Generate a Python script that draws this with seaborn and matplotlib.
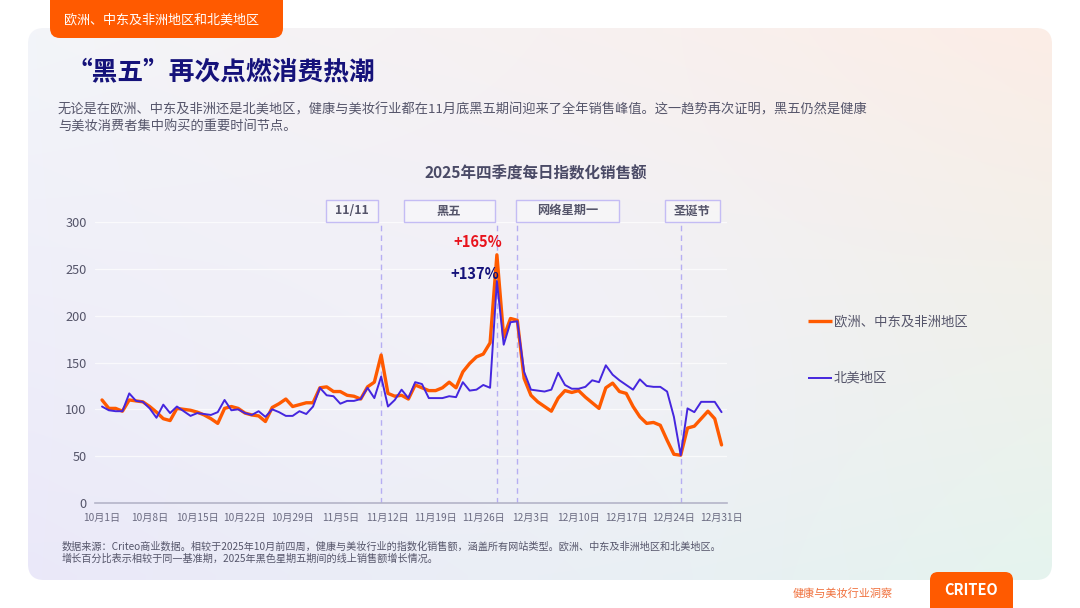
import numpy as np
import pandas as pd
import matplotlib.pyplot as plt
import seaborn as sns
import matplotlib.transforms as mtransforms
from matplotlib.patches import FancyBboxPatch, Rectangle

# ---- data ----
dates = pd.date_range("2025-10-01", "2025-12-31", freq="D")

emea = [110, 101, 101, 98, 110, 109, 108, 103, 97, 90,
        88, 101, 100, 99, 97, 94, 90, 85, 101, 103,
        101, 96, 94, 93, 87, 102, 106, 111, 103, 105,
        107, 107, 123, 124, 119, 119, 115, 114, 111, 124,
        129, 158, 117, 114, 115, 111, 126, 123, 120, 120,
        123, 129, 123, 140, 149, 156, 159, 171, 265, 177,
        197, 195, 133, 115, 108, 103, 98, 112, 120, 118,
        120, 113, 107, 101, 123, 128, 119, 117, 103, 92,
        85, 86, 83, 67, 52, 51, 80, 82, 90, 98,
        90, 62]

north_america = [103, 99, 98, 98, 117, 109, 108, 101, 91, 105,
                 96, 103, 98, 93, 96, 95, 94, 97, 110, 99,
                 100, 96, 94, 98, 92, 100, 97, 93, 93, 98,
                 95, 103, 123, 115, 114, 106, 109, 109, 111, 123,
                 112, 135, 103, 110, 121, 112, 129, 127, 112, 112,
                 112, 114, 113, 129, 120, 121, 126, 123, 237, 169,
                 193, 194, 140, 121, 120, 119, 121, 139, 126, 122,
                 122, 124, 131, 129, 147, 137, 131, 126, 121, 132,
                 125, 124, 124, 119, 92, 51, 101, 97, 108, 108,
                 108, 97]

series_names = ["欧洲、中东及非洲地区", "北美地区"]
tick_labels = ["10月1日", "10月8日", "10月15日", "10月22日", "10月29日", "11月5日",
               "11月12日", "11月19日", "11月26日", "12月3日", "12月10日", "12月17日",
               "12月24日", "12月31日"]
event_names = ["11/11", "黑五", "网络星期一", "圣诞节"]
event_dates = ["2025-11-11", "2025-11-28", "2025-12-01", "2025-12-25"]
peak_labels = ["+165%", "+137%"]

day = (dates - dates[0]).days
df = pd.DataFrame({"day": np.concatenate([day, day]),
                   "value": emea + north_america,
                   "region": [series_names[0]] * len(day) + [series_names[1]] * len(day)})

ORANGE = "#FF5A00"
BLUE = "#4526DE"
NAVY = "#15127A"
GREY = "#55556A"

sns.set_theme(style="white")
plt.rcParams["font.family"] = ["Noto Sans CJK SC", "DejaVu Sans"]

fig = plt.figure(figsize=(10.8, 6.08), dpi=100)
fig.patch.set_facecolor("white")

# background layer in pixel coordinates
bg = fig.add_axes([0, 0, 1, 1])
bg.set_xlim(0, 1080)
bg.set_ylim(608, 0)
bg.axis("off")

# soft gradient panel
corners = {"tl": "#F3F5F9", "tr": "#FCEDE6", "bl": "#EAE8F9", "br": "#E5F4EE"}
c = {k: np.array(plt.matplotlib.colors.to_rgb(v)) for k, v in corners.items()}
gy, gx = np.mgrid[0:1:60j, 0:1:100j]
grad = ((1 - gx)[..., None] * (1 - gy)[..., None] * c["tl"]
        + gx[..., None] * (1 - gy)[..., None] * c["tr"]
        + (1 - gx)[..., None] * gy[..., None] * c["bl"]
        + gx[..., None] * gy[..., None] * c["br"])
mid = np.array(plt.matplotlib.colors.to_rgb("#F3F1FB"))
w = np.exp(-(((gx - 0.45) / 0.35) ** 2 + ((gy - 0.55) / 0.45) ** 2))[..., None]
grad = grad * (1 - 0.6 * w) + mid * 0.6 * w
panel = FancyBboxPatch((28, 28), 1024, 552, boxstyle="round,pad=0,rounding_size=16",
                       facecolor="none", edgecolor="none")
bg.add_patch(panel)
im = bg.imshow(grad, extent=(28, 1052, 580, 28), interpolation="bilinear", zorder=0)
im.set_clip_path(panel)

# top-left tab
bg.add_patch(FancyBboxPatch((50, -20), 233, 58, boxstyle="round,pad=0,rounding_size=10",
                            facecolor=ORANGE, edgecolor="none", zorder=2))
bg.text(64, 20, "欧洲、中东及非洲地区和北美地区", color="white", fontsize=9.4,
        va="center", ha="left", zorder=3)

# headings
bg.text(66, 73, "“黑五”再次点燃消费热潮", color=NAVY, fontsize=18.5,
        fontweight="heavy", va="center", ha="left")
bg.text(58, 110, "无论是在欧洲、中东及非洲还是北美地区，健康与美妆行业都在11月底黑五期间迎来了全年销售峰值。这一趋势再次证明，黑五仍然是健康",
        color=GREY, fontsize=9.5, va="center", ha="left")
bg.text(58, 127, "与美妆消费者集中购买的重要时间节点。", color=GREY, fontsize=9.5,
        va="center", ha="left")
bg.text(536, 173, "2025年四季度每日指数化销售额", color="#4A4A66", fontsize=11.2,
        fontweight="bold", va="center", ha="center")

# footer notes
bg.text(62, 547, "数据来源：Criteo商业数据。相较于2025年10月前四周，健康与美妆行业的指数化销售额，涵盖所有网站类型。欧洲、中东及非洲地区和北美地区。",
        color=GREY, fontsize=7.3, va="center", ha="left")
bg.text(62, 559, "增长百分比表示相较于同一基准期，2025年黑色星期五期间的线上销售额增长情况。",
        color=GREY, fontsize=7.3, va="center", ha="left")
bg.text(793, 594, "健康与美妆行业洞察", color="#F0703C", fontsize=8, va="center", ha="left")
bg.add_patch(FancyBboxPatch((930, 572), 83, 60, boxstyle="round,pad=0,rounding_size=8",
                            facecolor=ORANGE, edgecolor="none", zorder=2))
bg.text(971, 590, "CRITEO", color="white", fontsize=10.5, fontweight="heavy",
        va="center", ha="center", zorder=3)

# legend drawn by hand on the right
for i, (name, col, lw) in enumerate(zip(series_names, [ORANGE, BLUE], [2.4, 1.4])):
    y = 321 + i * 57
    bg.plot([808, 832], [y, y], color=col, lw=lw, solid_capstyle="butt")
    bg.text(834, y, name, color=GREY, fontsize=9.6, va="center", ha="left")

# ---- chart ----
ax = fig.add_axes([95 / 1080, 105 / 608, 632 / 1080, 281 / 608])
ax.set_facecolor("none")
sns.lineplot(data=df[df.region == series_names[1]], x="day", y="value", color=BLUE,
             lw=1.4, ax=ax, legend=False, zorder=4)
sns.lineplot(data=df[df.region == series_names[0]], x="day", y="value", color=ORANGE,
             lw=2.4, ax=ax, legend=False, zorder=3)
for ln in ax.lines:
    ln.set_solid_joinstyle("round")

ax.set_xlim(-1.03, 91.8)
ax.set_ylim(0, 300)
ax.set_yticks(range(0, 301, 50))
ax.set_xticks(range(0, 92, 7))
ax.set_xticklabels(tick_labels)
ax.tick_params(axis="x", labelsize=7.3, colors="#6A6A80", length=0, pad=7)
ax.tick_params(axis="y", labelsize=9.2, colors=GREY, length=0, pad=6)
ax.set_xlabel("")
ax.set_ylabel("")
ax.yaxis.grid(True, color="white", lw=0.9, alpha=0.7)
ax.set_axisbelow(True)
for s in ["top", "right", "left"]:
    ax.spines[s].set_visible(False)
ax.spines["bottom"].set_color("#B4B4C8")
ax.spines["bottom"].set_linewidth(1.2)

# event markers with boxes
trans = mtransforms.blended_transform_factory(ax.transData, ax.transAxes)
box_span = [(-8.1, -0.5), (-13.7, -0.3), (-0.2, 14.9), (-2.3, 5.7)]
for name, d, (a, b) in zip(event_names, event_dates, box_span):
    xd = (pd.Timestamp(d) - dates[0]).days
    ax.axvline(xd, color="#B6AEF2", lw=1, ls=(0, (4, 3)), zorder=1)
    ax.add_patch(Rectangle((xd + a, 1.0), b - a, 0.08, transform=trans,
                           facecolor=(1, 1, 1, 0.35), edgecolor="#C4BCF4", lw=1,
                           clip_on=False))
    ax.text(xd + (a + b) / 2, 1.04, name, transform=trans, color=GREY, fontsize=8.8,
            fontweight="bold", ha="center", va="center")

bf = (pd.Timestamp(event_dates[1]) - dates[0]).days
ax.annotate(peak_labels[0], (bf, emea[bf]), xytext=(-14, 9), textcoords="offset points",
            color="#E8131C", fontsize=10.5, fontweight="bold", ha="center", va="center")
ax.annotate(peak_labels[1], (bf, north_america[bf]), xytext=(-16, 5), textcoords="offset points",
            color=NAVY, fontsize=10.5, fontweight="bold", ha="center", va="center")

fig.savefig("out.png", dpi=100)
